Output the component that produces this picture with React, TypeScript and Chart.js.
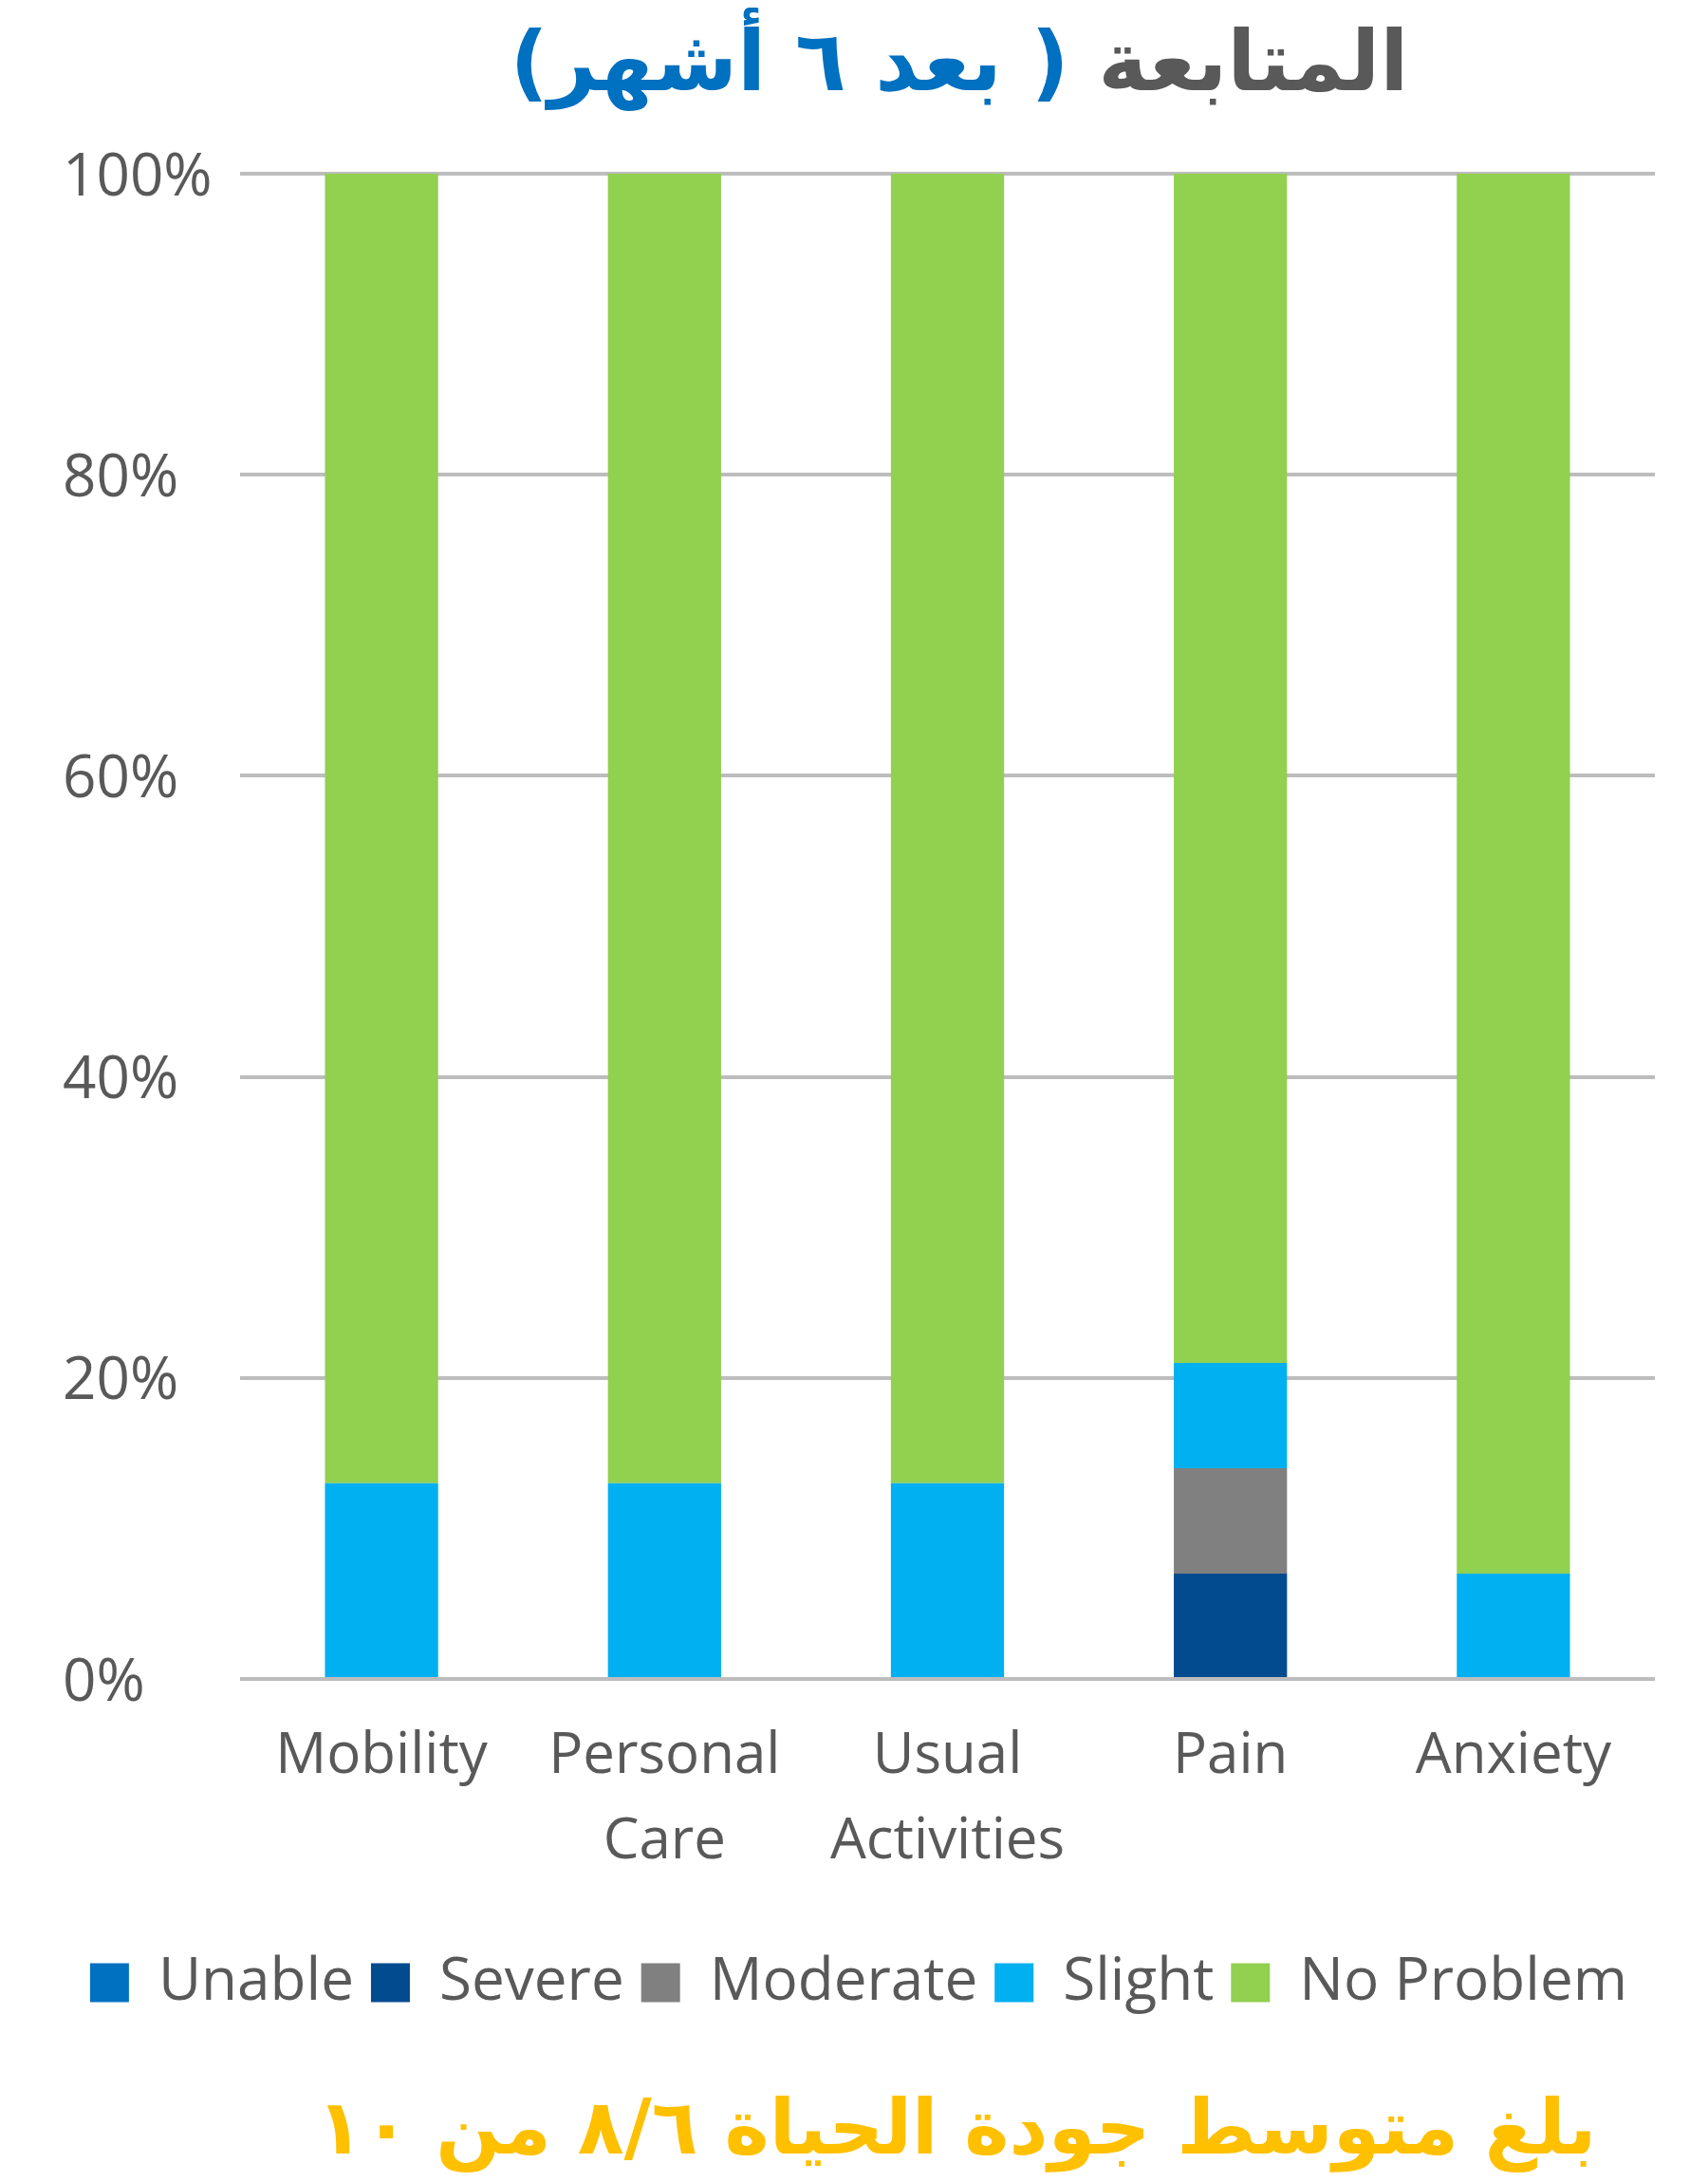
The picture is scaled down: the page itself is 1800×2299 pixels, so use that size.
import React, { useEffect, useRef } from "react";
import { Chart, registerables } from "chart.js";

Chart.register(...registerables);

const categories: (string | string[])[] = [
  "Mobility",
  ["Personal", "Care"],
  ["Usual", "Activities"],
  "Pain",
  "Anxiety",
];
const seriesNames = ["Unable", "Severe", "Moderate", "Slight", "No Problem"];
const unableValues = [0, 0, 0, 0, 0];
const severeValues = [0, 0, 0, 7, 0];
const moderateValues = [0, 0, 0, 7, 0];
const slightValues = [13, 13, 13, 7, 7];
const noProblemValues = [87, 87, 87, 79, 93];
const seriesColors = ["#0070C0", "#024B8F", "#808080", "#00B0F0", "#92D050"];
const yTicks = [0, 20, 40, 60, 80, 100];

const titleGray = "المتابعة";
const titleBlue = "( بعد ٦ أشهر)";
const footerText = "بلغ متوسط جودة الحياة ٨/٦ من ١٠";

const CANVAS_W = 1784;
const CANVAS_H = 2122;

export default function App() {
  const ref = useRef<HTMLCanvasElement | null>(null);

  useEffect(() => {
    if (!ref.current) return;
    const values = [unableValues, severeValues, moderateValues, slightValues, noProblemValues];
    const chart = new Chart(ref.current, {
      type: "bar",
      data: {
        labels: categories,
        datasets: seriesNames.map((name, i) => ({
          label: name,
          data: values[i],
          backgroundColor: seriesColors[i],
          borderWidth: 0,
          barPercentage: 0.4,
          categoryPercentage: 1,
        })),
      },
      options: {
        responsive: false,
        animation: false,
        events: [],
        layout: { padding: { left: 58, right: 48, top: 175, bottom: 0 } },
        plugins: {
          tooltip: { enabled: false },
          title: { display: false },
          legend: {
            display: true,
            position: "bottom",
            labels: {
              boxWidth: 41,
              boxHeight: 41,
              padding: 18,
              color: "#595959",
              font: { family: "'Open Sans', sans-serif", size: 62 },
            },
          },
        },
        scales: {
          x: {
            stacked: true,
            grid: { display: false, drawTicks: false },
            border: { display: false },
            ticks: {
              color: "#595959",
              padding: 37,
              maxRotation: 0,
              autoSkip: false,
              font: { family: "'Open Sans', sans-serif", size: 60, lineHeight: 1.5 },
            },
            afterFit: (s: any) => {
              s.height = 271;
            },
          },
          y: {
            stacked: true,
            min: 0,
            max: 100,
            afterBuildTicks: (s: any) => {
              s.ticks = yTicks.map((v) => ({ value: v }));
            },
            grid: { color: "#BDBDBD", lineWidth: 4, drawTicks: false },
            border: { display: false },
            ticks: {
              color: "#595959",
              crossAlign: "far",
              padding: 0,
              labelOffset: 5,
              font: { family: "'Open Sans', sans-serif", size: 62 },
              callback: (v: any) => v + "%",
            },
            afterFit: (s: any) => {
              s.width = 187;
            },
          },
        },
      },
    });
    return () => chart.destroy();
  }, []);

  return (
    <div style={{ position: "relative", width: CANVAS_W, height: 2283, overflow: "hidden" }}>
      <div
        dir="rtl"
        style={{
          position: "absolute",
          left: 1003,
          top: 2,
          transform: "translateX(-50%)",
          whiteSpace: "nowrap",
          fontFamily: "'DejaVu Sans', sans-serif",
          fontWeight: "bold",
          fontSize: 88,
          lineHeight: "110px",
          zIndex: 2,
        }}
      >
        <span style={{ color: "#595959" }}>{titleGray}</span>{" "}
        <span style={{ color: "#0070C0" }}>{titleBlue}</span>
      </div>
      <canvas
        ref={ref}
        width={CANVAS_W}
        height={CANVAS_H}
        style={{ position: "absolute", left: 0, top: 0, width: CANVAS_W, height: CANVAS_H }}
      />
      <div
        dir="rtl"
        style={{
          position: "absolute",
          left: 1000,
          top: 2184,
          transform: "translateX(-50%)",
          whiteSpace: "nowrap",
          fontFamily: "'DejaVu Sans', sans-serif",
          fontWeight: "bold",
          fontSize: 80,
          lineHeight: "100px",
          color: "#FFC000",
        }}
      >
        {footerText}
      </div>
    </div>
  );
}
